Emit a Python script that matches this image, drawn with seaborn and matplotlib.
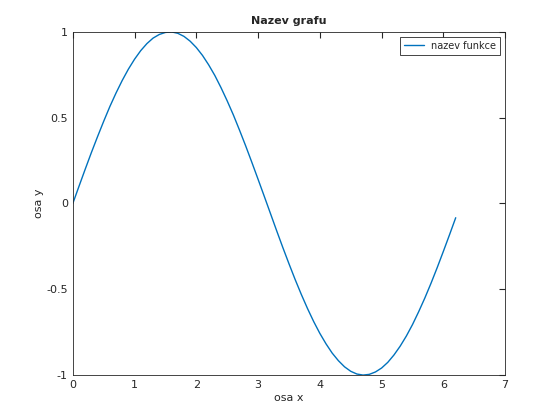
import numpy as np
import pandas as pd
import matplotlib
matplotlib.use("Agg")
import matplotlib.pyplot as plt
import seaborn as sns

# values, x step 0.1 from 0 to 6.2
x_values = [round(0.1 * i, 1) for i in range(63)]
y_values = [0.000, 0.100, 0.199, 0.296, 0.389, 0.479, 0.565, 0.644, 0.717, 0.783,
            0.841, 0.891, 0.932, 0.964, 0.985, 0.997, 1.000, 0.992, 0.974, 0.946,
            0.909, 0.863, 0.808, 0.746, 0.675, 0.598, 0.516, 0.427, 0.335, 0.239,
            0.141, 0.042, -0.058, -0.158, -0.256, -0.351, -0.443, -0.530, -0.612, -0.688,
            -0.757, -0.818, -0.872, -0.916, -0.952, -0.978, -0.994, -1.000, -0.996, -0.982,
            -0.959, -0.926, -0.883, -0.832, -0.773, -0.706, -0.631, -0.551, -0.465, -0.374,
            -0.279, -0.182, -0.083]
x_ticks = [0, 1, 2, 3, 4, 5, 6, 7]
y_ticks = [-1, -0.5, 0, 0.5, 1]
y_tick_labels = ["-1", "-0.5", "0", "0.5", "1"]

df = pd.DataFrame({"x": x_values, "y": y_values})

sns.set_style("white")
plt.rcParams["font.family"] = ["DejaVu Sans"]
plt.rcParams["font.size"] = 8

fig = plt.figure(figsize=(5.6, 4.2), dpi=100)
ax = fig.add_axes([0.13, 0.107, 0.772, 0.817])
sns.lineplot(data=df, x="x", y="y", ax=ax, color="#0072BD", linewidth=1,
             label="nazev funkce")

ax.set_xlim(0, 7)
ax.set_ylim(-1, 1)
ax.set_xticks(x_ticks)
ax.set_yticks(y_ticks)
ax.set_yticklabels(y_tick_labels)
ax.tick_params(direction="in", length=4, top=True, right=True, labelsize=8, colors="#262626")
for s in ax.spines.values():
    s.set_color("#262626")
    s.set_linewidth(0.6)
ax.set_xlabel("osa x", fontsize=8, labelpad=2)
ax.set_ylabel("osa y", fontsize=8, labelpad=2)
ax.set_title("Nazev grafu", fontsize=8, fontweight="bold")
leg = ax.legend(loc="upper right", fontsize=7, fancybox=False, framealpha=1)
leg.get_frame().set_edgecolor("#262626")
leg.get_frame().set_linewidth(0.6)

fig.savefig("out.png", dpi=100)
